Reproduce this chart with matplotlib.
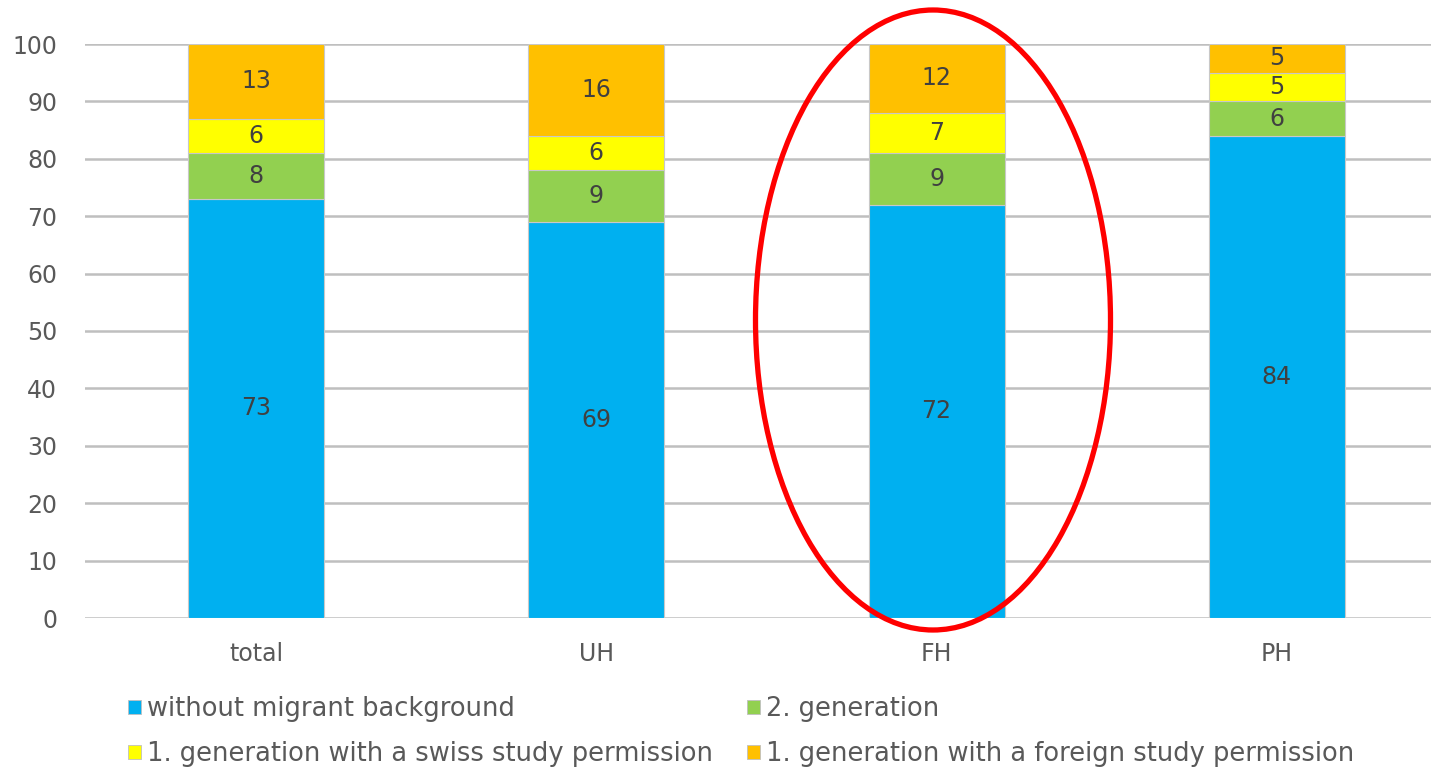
import matplotlib
matplotlib.use("Agg")
import matplotlib.pyplot as plt
from matplotlib.patches import Ellipse, Patch
import numpy as np

categories = ["total", "UH", "FH", "PH"]
series_names = [
    "without migrant background",
    "2. generation",
    "1. generation with a swiss study permission",
    "1. generation with a foreign study permission",
]
without_migrant = [73, 69, 72, 84]
second_gen = [8, 9, 9, 6]
first_gen_swiss = [6, 6, 7, 5]
first_gen_foreign = [13, 16, 12, 5]
y_ticks = [0, 10, 20, 30, 40, 50, 60, 70, 80, 90, 100]

colors = ["#00B0F0", "#92D050", "#FFFF00", "#FFC000"]
text_grey = "#595959"
label_grey = "#404040"

plt.rcParams["font.family"] = ["DejaVu Sans"]

W, H = 1431, 772
fig = plt.figure(figsize=(W / 100, H / 100), dpi=100)
ax = fig.add_axes([85 / W, (H - 618) / H, (1431 - 85) / W, (618 - 44) / H])

x = np.arange(len(categories))
bottom = np.zeros(len(categories))
all_series = [without_migrant, second_gen, first_gen_swiss, first_gen_foreign]
handles = []
for vals, col, name in zip(all_series, colors, series_names):
    vals = np.array(vals, dtype=float)
    ax.bar(x, vals, bottom=bottom, width=0.40, color=col,
           edgecolor="#C8C8C8", linewidth=0.8, zorder=3)
    for xi, b, v in zip(x, bottom, vals):
        ax.text(xi, b + v / 2, f"{int(v)}", ha="center", va="center",
                fontsize=17, color=label_grey, zorder=4)
    bottom += vals
    handles.append(Patch(facecolor=col, edgecolor="#BFBFBF", linewidth=0.6, label=name))

ax.set_xlim(-0.5025, 3.453)
ax.set_ylim(0, 100)
ax.set_yticks(y_ticks)
ax.set_xticks(x)
ax.set_xticklabels(categories)
ax.yaxis.grid(True, color="#BFBFBF", linewidth=1.8, zorder=0)
ax.set_axisbelow(True)
for s in ax.spines.values():
    s.set_visible(False)
ax.tick_params(axis="both", length=0, colors=text_grey)
ax.tick_params(axis="y", pad=20, labelsize=17)
ax.tick_params(axis="x", pad=17, labelsize=17)

# legend in two rows: column-major ordering
order = [0, 2, 1, 3]
leg = fig.legend([handles[i] for i in order], [series_names[i] for i in order],
                 ncol=2, loc="upper left", bbox_to_anchor=(128 / W, 1 - 696 / H),
                 frameon=False, fontsize=18.5, handlelength=0.5, handleheight=0.5,
                 handletextpad=0.25, columnspacing=1.3, labelspacing=0.75,
                 borderaxespad=0, borderpad=0)
for t in leg.get_texts():
    t.set_color(text_grey)

# highlight around the FH column
ell = Ellipse((933 / W, 1 - 320 / H), 355 / W, 620 / H, transform=fig.transFigure,
              fill=False, edgecolor="#FF0000", linewidth=3.8, zorder=10)
fig.patches.append(ell)

fig.savefig("out.png", dpi=100)
